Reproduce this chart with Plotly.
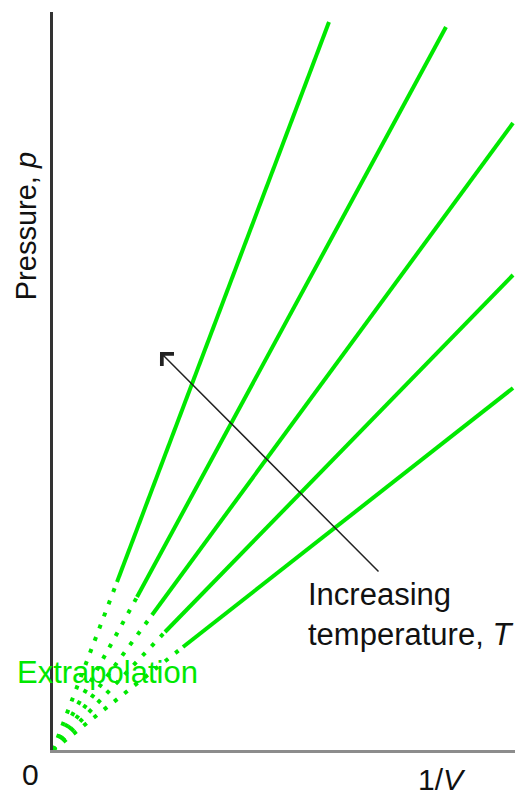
import plotly.graph_objects as go

# Isotherms p vs 1/V (arbitrary units), all through the origin
line_names = ["T1", "T2", "T3", "T4", "T5"]
x_end = [2.76, 3.93, 4.60, 4.60, 4.60]
y_end = [7.28, 7.23, 6.27, 4.75, 3.62]
# where the measured (solid) part begins; below it the line is extrapolated
x_break = [0.64, 0.84, 0.99, 1.12, 1.30]
y_break = [1.68, 1.53, 1.35, 1.18, 1.03]

GREEN = "#00e800"
FONT = "Liberation Sans, Arial, sans-serif"

fig = go.Figure()
for i, name in enumerate(line_names):
    fig.add_trace(go.Scatter(
        x=[0, x_break[i]], y=[0, y_break[i]], mode="lines",
        line=dict(color=GREEN, width=4, dash="4px,9px"),
        showlegend=False, hoverinfo="skip", name=name + " extrapolated"))
    fig.add_trace(go.Scatter(
        x=[x_break[i], x_end[i]], y=[y_break[i], y_end[i]], mode="lines",
        line=dict(color=GREEN, width=4),
        showlegend=False, hoverinfo="skip", name=name))

fig.add_annotation(x=1.07, y=3.98, ax=3.27, ay=1.77, xref="x", yref="y",
                   axref="x", ayref="y", showarrow=True, arrowhead=4,
                   arrowsize=2.2, arrowwidth=1.5, arrowcolor="#222222", text="")

fig.add_annotation(x=2.53, y=1.36, xref="x", yref="y", xanchor="left", yanchor="middle",
                   text="Increasing<br>temperature, <i>T</i>", showarrow=False, align="left",
                   font=dict(family=FONT, size=31, color="#111111"))

fig.add_annotation(x=0.54, y=0.78, xref="x", yref="y", xanchor="center", yanchor="middle",
                   text="Extrapolation", showarrow=False,
                   font=dict(family=FONT, size=31, color=GREEN))

fig.add_annotation(x=-0.058, y=0.710, xref="paper", yref="paper", xanchor="center", yanchor="middle",
                   text="Pressure, <i>p</i>", textangle=-90, showarrow=False,
                   font=dict(family=FONT, size=29, color="#111111"))

fig.add_annotation(x=-0.048, y=-0.033, xref="paper", yref="paper", xanchor="center", yanchor="middle",
                   text="0", showarrow=False,
                   font=dict(family=FONT, size=30, color="#111111"))

fig.add_annotation(x=0.842, y=-0.040, xref="paper", yref="paper", xanchor="center", yanchor="middle",
                   text="1/<i>V</i>", showarrow=False,
                   font=dict(family=FONT, size=30, color="#111111"))

fig.update_layout(
    width=518, height=793,
    margin=dict(l=53, r=3, t=12, b=43),
    paper_bgcolor="white", plot_bgcolor="white",
    xaxis=dict(range=[0, 4.62], showgrid=False, zeroline=False, showticklabels=False,
               ticks="", showline=True, linecolor="#8c8c8c", linewidth=3),
    yaxis=dict(range=[0, 7.38], showgrid=False, zeroline=False, showticklabels=False,
               ticks="", showline=True, linecolor="#333333", linewidth=3),
)

fig.write_html("out.html")
